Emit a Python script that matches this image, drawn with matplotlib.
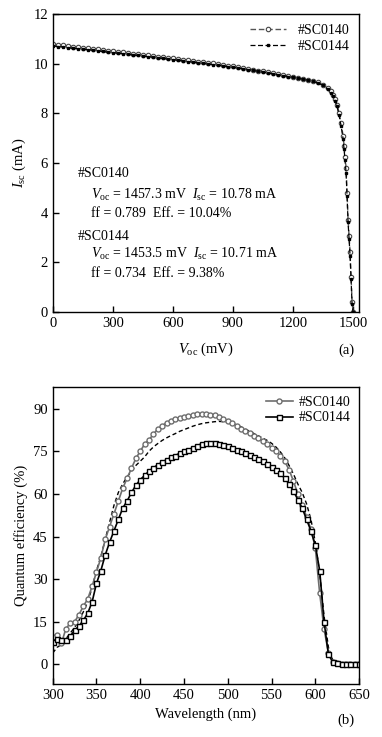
import numpy as np
import matplotlib
matplotlib.use("Agg")
import matplotlib.pyplot as plt

plt.rcParams['font.family'] = ['Liberation Serif', 'DejaVu Serif']
plt.rcParams['mathtext.fontset'] = 'custom'
plt.rcParams['mathtext.rm'] = 'Liberation Serif'
plt.rcParams['mathtext.it'] = 'Liberation Serif:italic'
plt.rcParams['font.size'] = 10.5

# ---- (a) I-V curves ----
v_iv = list(range(0, 1251, 25)) + [1275, 1300, 1325, 1350, 1375, 1390, 1400, 1410,
                                   1420, 1430, 1440, 1450, 1455, 1460, 1465, 1470,
                                   1475, 1480, 1485, 1490, 1495, 1500]
i_sc0140 = [10.78, 10.76, 10.74, 10.71, 10.69, 10.66, 10.64, 10.62, 10.60, 10.57,
            10.55, 10.52, 10.50, 10.47, 10.45, 10.42, 10.40, 10.38, 10.36, 10.33,
            10.31, 10.28, 10.26, 10.23, 10.21, 10.18, 10.16, 10.13, 10.11, 10.08,
            10.06, 10.03, 10.01, 9.98, 9.95, 9.92, 9.89, 9.85, 9.82, 9.79,
            9.76, 9.72, 9.69, 9.65, 9.62, 9.58, 9.55, 9.51, 9.47, 9.43,
            9.39,
            9.35, 9.30, 9.25, 9.15, 9.00, 8.88, 8.75, 8.57, 8.35, 8.00, 7.60,
            7.10, 6.70, 6.25, 5.80, 4.80, 3.70, 3.05, 2.40, 1.40, 0.40, 0.0]
i_sc0144 = [10.71, 10.69, 10.67, 10.64, 10.62, 10.60, 10.58, 10.56, 10.54, 10.51,
            10.49, 10.46, 10.44, 10.42, 10.40, 10.37, 10.35, 10.33, 10.31, 10.28,
            10.26, 10.23, 10.21, 10.18, 10.16, 10.13, 10.11, 10.08, 10.06, 10.03,
            10.01, 9.98, 9.96, 9.93, 9.91, 9.88, 9.85, 9.82, 9.79, 9.76,
            9.73, 9.69, 9.66, 9.62, 9.59, 9.55, 9.52, 9.48, 9.45, 9.41,
            9.37,
            9.33, 9.28, 9.22, 9.12, 8.96, 8.82, 8.70, 8.50, 8.28, 7.92, 7.50,
            6.98, 6.55, 6.10, 5.60, 4.65, 3.60, 2.95, 2.25, 1.30, 0.30, 0.0]

# ---- (b) quantum efficiency ----
wl = np.arange(300, 655, 5)
qe_sc0140 = [9.5, 10.5, 7.5, 12.5, 14.5, 15.0, 17.5, 20.5, 23.0, 27.5,
             32.5, 37.5, 44.0, 48.5, 53.0, 57.5, 62.0, 65.5, 69.0, 72.5,
             75.0, 77.5, 79.0, 81.0, 82.8, 84.0, 85.0, 85.8, 86.5, 86.8,
             87.0, 87.3, 87.7, 88.0, 88.0, 88.0, 87.8, 87.6, 87.2, 86.5,
             85.8, 85.0, 84.0, 83.0, 82.2, 81.3, 80.5, 79.6, 78.7, 77.5,
             76.3, 75.0, 73.5, 71.5, 68.5, 64.5, 60.0, 56.0, 52.0, 47.5,
             41.0, 25.0, 12.5, 4.0, 1.0, 0.4, 0.3, 0.3, 0.3, 0.3, 0.3]
qe_sc0144 = [8.0, 9.0, 8.5, 8.5, 10.0, 12.0, 13.5, 15.5, 18.0, 22.0,
             28.5, 33.0, 38.5, 43.0, 47.0, 51.0, 55.0, 57.5, 60.5, 63.0,
             65.0, 66.5, 68.0, 69.2, 70.2, 71.2, 72.0, 72.8, 73.5, 74.3,
             75.0, 75.5, 76.2, 77.0, 77.6, 78.0, 78.0, 77.8, 77.5, 77.2,
             76.7, 76.2, 75.6, 75.0, 74.4, 73.6, 72.9, 72.2, 71.5, 70.6,
             69.6, 68.5, 67.2, 65.5, 63.5, 61.0, 58.0, 55.0, 51.0, 47.0,
             42.0, 33.0, 15.0, 3.5, 0.8, 0.4, 0.3, 0.3, 0.3, 0.3, 0.3]
qe_dashed = [4.0, 6.0, 7.0, 9.0, 11.0, 13.0, 15.5, 18.5, 22.0, 27.0,
             33.0, 38.0, 44.0, 50.0, 56.0, 60.5, 63.5, 66.0, 68.0, 70.0,
             71.5, 73.0, 75.0, 76.5, 77.7, 78.8, 79.7, 80.5, 81.2, 82.0,
             82.6, 83.2, 83.8, 84.3, 84.7, 85.0, 85.2, 85.4, 85.5, 85.4,
             85.2, 84.8, 84.3, 83.6, 82.8, 82.0, 81.2, 80.4, 79.6, 78.8,
             77.8, 76.5, 74.8, 72.7, 70.0, 67.0, 63.5, 60.5, 56.5, 51.0,
             43.0, 32.0, 17.0, 6.0, 1.5, 0.5, 0.3, 0.3, 0.3, 0.3, 0.3]

fig = plt.figure(figsize=(3.82, 7.37), dpi=100)
ax_iv = fig.add_axes([0.138, 0.577, 0.802, 0.404])
ax_qe = fig.add_axes([0.138, 0.0715, 0.802, 0.403])

gray = '#6e6e6e'

ax_iv.plot(v_iv, i_sc0140, color='#555555', lw=1.0, ls=(0, (4, 2)), marker='o', ms=3.2,
           mfc='white', mec='#444444', mew=0.8, label='#SC0140')
ax_iv.plot(v_iv, i_sc0144, color='black', lw=0.9, ls=(0, (4, 2)), marker='s', ms=1.8,
           mfc='black', mec='black', label='#SC0144')
ax_iv.set_xlim(0, 1530)
ax_iv.set_ylim(0, 12)
ax_iv.set_xticks([0, 300, 600, 900, 1200, 1500])
ax_iv.set_yticks([0, 2, 4, 6, 8, 10, 12])
ax_iv.set_xlabel(r'$V_{\rm oc}$ (mV)', labelpad=8)
ax_iv.set_ylabel(r'$I_{\rm sc}$ (mA)', labelpad=4)
ax_iv.legend(loc='upper right', frameon=False, handlelength=2.6, fontsize=10,
             borderaxespad=0.3, labelspacing=0.2)

kw = dict(transform=ax_iv.transAxes, fontsize=10, va='center')
ax_iv.text(0.082, 0.465, '#SC0140', **kw)
ax_iv.text(0.124, 0.392, r'$V_{\rm oc}$ = 1457.3 mV  $I_{\rm sc}$ = 10.78 mA', **kw)
ax_iv.text(0.124, 0.330, 'ff = 0.789  Eff. = 10.04%', **kw)
ax_iv.text(0.082, 0.254, '#SC0144', **kw)
ax_iv.text(0.124, 0.193, r'$V_{\rm oc}$ = 1453.5 mV  $I_{\rm sc}$ = 10.71 mA', **kw)
ax_iv.text(0.124, 0.130, 'ff = 0.734  Eff. = 9.38%', **kw)
ax_iv.text(0.985, -0.128, '(a)', transform=ax_iv.transAxes, ha='right', va='center',
           fontsize=10.5)

ax_qe.plot(wl, qe_dashed, color='black', lw=1.0, ls=(0, (3, 2)))
ax_qe.plot(wl, qe_sc0140, color=gray, lw=1.2, marker='o', ms=3.6, mfc='white',
           mec=gray, mew=1.0, label='#SC0140')
ax_qe.plot(wl, qe_sc0144, color='black', lw=1.2, marker='s', ms=3.6, mfc='white',
           mec='black', mew=1.0, label='#SC0144')
ax_qe.set_xlim(300, 650)
ax_qe.set_ylim(-7, 97.5)
ax_qe.set_xticks(np.arange(300, 651, 50))
ax_qe.set_yticks([0, 15, 30, 45, 60, 75, 90])
ax_qe.set_xlabel('Wavelength (nm)', labelpad=4)
ax_qe.set_ylabel('Quantum efficiency (%)', labelpad=4)
ax_qe.legend(loc='upper right', frameon=False, handlelength=2.0, fontsize=10,
             borderaxespad=0.2, labelspacing=0.2, handletextpad=0.4)
ax_qe.text(0.985, -0.12, '(b)', transform=ax_qe.transAxes, ha='right', va='center',
           fontsize=10.5)

for ax in (ax_iv, ax_qe):
    ax.tick_params(direction='in', length=4, width=1, labelsize=10.5)
    for sp in ax.spines.values():
        sp.set_linewidth(1.0)

fig.savefig('out.png', dpi=100)
